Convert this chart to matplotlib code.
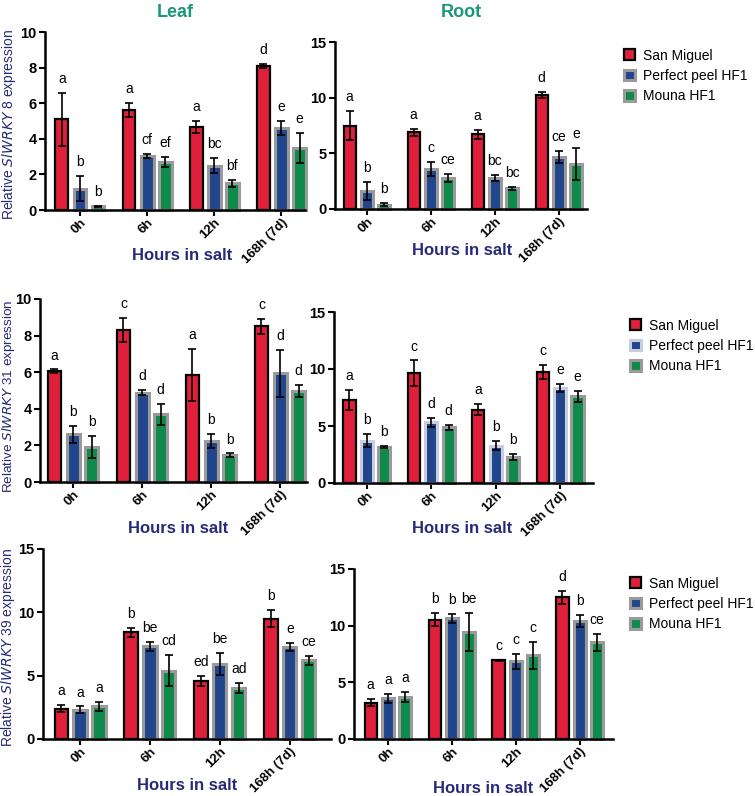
import matplotlib.pyplot as plt
from matplotlib.patches import Patch
import numpy as np

plt.rcParams['font.family'] = ['Liberation Sans', 'DejaVu Sans']

groups = ['0h', '6h', '12h', '168h (7d)']
cultivars = ['San Miguel', 'Perfect peel HF1', 'Mouna HF1']

# SlWRKY 8
w8_leaf_mean = [[5.1, 5.6, 4.65, 8.1], [1.2, 3.05, 2.5, 4.6], [0.2, 2.7, 1.5, 3.5]]
w8_leaf_err = [[1.5, 0.4, 0.35, 0.1], [0.7, 0.12, 0.4, 0.4], [0.03, 0.3, 0.2, 0.85]]
w8_leaf_letters = [['a', 'a', 'a', 'd'], ['b', 'cf', 'bc', 'e'], ['b', 'ef', 'bf', 'e']]

w8_root_mean = [[7.5, 6.9, 6.7, 10.25], [1.6, 3.6, 2.8, 4.7], [0.4, 2.8, 1.85, 4.05]]
w8_root_err = [[1.3, 0.3, 0.4, 0.3], [0.8, 0.65, 0.25, 0.55], [0.15, 0.35, 0.1, 1.45]]
w8_root_letters = [['a', 'a', 'a', 'd'], ['b', 'c', 'bc', 'ce'], ['b', 'ce', 'bc', 'e']]

# SlWRKY 31
w31_leaf_mean = [[6.05, 8.3, 5.85, 8.5], [2.6, 4.88, 2.25, 5.95], [1.92, 3.7, 1.46, 4.97]]
w31_leaf_err = [[0.1, 0.64, 1.44, 0.4], [0.45, 0.15, 0.37, 1.28], [0.6, 0.57, 0.1, 0.35]]
w31_leaf_letters = [['a', 'c', 'a', 'c'], ['b', 'd', 'b', 'd'], ['b', 'd', 'b', 'd']]

w31_root_mean = [[7.28, 9.65, 6.43, 9.74], [3.71, 5.32, 3.27, 8.33], [3.13, 4.88, 2.28, 7.6]]
w31_root_err = [[0.88, 1.1, 0.5, 0.63], [0.58, 0.4, 0.4, 0.35], [0.1, 0.2, 0.3, 0.5]]
w31_root_letters = [['a', 'c', 'a', 'c'], ['b', 'd', 'b', 'e'], ['b', 'd', 'b', 'e']]

# SlWRKY 39
w39_leaf_mean = [[2.4, 8.42, 4.55, 9.5], [2.32, 7.32, 5.92, 7.26], [2.6, 5.4, 4.03, 6.2]]
w39_leaf_err = [[0.26, 0.38, 0.4, 0.66], [0.25, 0.37, 0.88, 0.3], [0.35, 1.25, 0.4, 0.36]]
w39_leaf_letters = [['a', 'b', 'ed', 'b'], ['a', 'be', 'be', 'e'], ['a', 'cd', 'ad', 'ce']]

w39_root_mean = [[3.22, 10.53, 6.96, 12.5], [3.6, 10.67, 6.87, 10.4], [3.74, 9.44, 7.37, 8.54]]
w39_root_err = [[0.3, 0.55, 0.05, 0.55], [0.4, 0.4, 0.65, 0.55], [0.45, 1.7, 1.17, 0.76]]
w39_root_letters = [['a', 'b', 'c', 'd'], ['a', 'b', 'c', 'b'], ['a', 'be', 'c', 'ce']]

fill_colors = ['#e0203a', '#22468c', '#0e8a4a']
navy = '#262a78'
teal = '#1a9878'

W, H = 755, 796
fig = plt.figure(figsize=(W / 100, H / 100), dpi=100)


def make_axes(left, right, top, bottom):
    return fig.add_axes([left / W, 1 - bottom / H, (right - left) / W, (bottom - top) / H])


def draw_panel(ax, means, errs, letters, ymax, ystep, xlim, xlab_pos, edge2='#9a9a9a'):
    x = np.arange(len(groups))
    offs = [-0.27, 0, 0.27]
    edges = ['black', edge2, '#9a9a9a']
    lws = [1.6, 2.2, 2.2]
    for i in range(3):
        ax.bar(x + offs[i], means[i], 0.19, color=fill_colors[i],
               edgecolor=edges[i], linewidth=lws[i], clip_on=False, zorder=2)
        ax.errorbar(x + offs[i], means[i], yerr=errs[i], fmt='none', ecolor='black',
                    elinewidth=1.2, capsize=3, capthick=1.2, clip_on=False, zorder=3)
        for j in range(len(groups)):
            ax.annotate(letters[i][j], (x[j] + offs[i], means[i][j] + errs[i][j]),
                        xytext=(0, 5), textcoords='offset points', ha='center',
                        va='bottom', fontsize=10)
    ax.set_xlim(*xlim)
    ax.set_ylim(0, ymax)
    ax.set_yticks(np.arange(0, ymax + 0.1, ystep))
    ax.set_xticks(x)
    ax.set_xticklabels(groups, rotation=45, ha='right', rotation_mode='anchor',
                       fontweight='bold', fontsize=9.5)
    for lab in ax.get_yticklabels():
        lab.set_fontweight('bold')
        lab.set_fontsize(10.5)
    for s in ['top', 'right']:
        ax.spines[s].set_visible(False)
    for s in ['left', 'bottom']:
        ax.spines[s].set_linewidth(1.8)
    ax.tick_params(direction='out', length=4, width=1.5, pad=2)
    ax.tick_params(axis='x', pad=1)
    ax.set_xlabel('Hours in salt', color=navy, fontweight='bold', fontsize=12)
    ax.xaxis.set_label_coords(*xlab_pos)


ax1 = make_axes(45, 305, 32, 210)
draw_panel(ax1, w8_leaf_mean, w8_leaf_err, w8_leaf_letters, 10, 2, (-0.52, 3.35),
           (0.527, -0.213))
ax1.set_ylabel(r'Relative $\it{SlWRKY}$ 8 expression', color=navy, fontsize=10)
ax1.yaxis.set_label_coords(-0.104, 0.48)
ax1.set_title('Leaf', color=teal, fontweight='bold', fontsize=13, pad=11)

ax2 = make_axes(335, 587, 42, 209)
draw_panel(ax2, w8_root_mean, w8_root_err, w8_root_letters, 15, 5, (-0.5, 3.44),
           (0.504, -0.204))
ax2.set_title('Root', color=teal, fontweight='bold', fontsize=13, pad=18)

ax3 = make_axes(40, 307, 299, 482)
draw_panel(ax3, w31_leaf_mean, w31_leaf_err, w31_leaf_letters, 10, 2, (-0.48, 3.39),
           (0.517, -0.213))
ax3.set_ylabel(r'Relative $\it{SlWRKY}$ 31 expression', color=navy, fontsize=9.7)
ax3.yaxis.set_label_coords(-0.088, 0.47)

ax4 = make_axes(334, 593, 312, 483)
draw_panel(ax4, w31_root_mean, w31_root_err, w31_root_letters, 15, 5, (-0.51, 3.51),
           (0.494, -0.222), edge2='#c8cde0')

ax5 = make_axes(43, 331, 549, 739)
draw_panel(ax5, w39_leaf_mean, w39_leaf_err, w39_leaf_letters, 15, 5, (-0.53, 3.59),
           (0.5, -0.205))
ax5.set_ylabel(r'Relative $\it{SlWRKY}$ 39 expression', color=navy, fontsize=10)
ax5.yaxis.set_label_coords(-0.092, 0.48)

ax6 = make_axes(354, 613, 569, 739)
draw_panel(ax6, w39_root_mean, w39_root_err, w39_root_letters, 15, 5, (-0.53, 3.52),
           (0.498, -0.247))

# legends
for (lx, ly, e2) in [(618, 43, '#9a9a9a'), (624, 313, '#c8cde0'), (624, 571, '#9a9a9a')]:
    handles = [Patch(facecolor=fill_colors[0], edgecolor='black', linewidth=1.6),
               Patch(facecolor=fill_colors[1], edgecolor=e2, linewidth=2.2),
               Patch(facecolor=fill_colors[2], edgecolor='#9a9a9a', linewidth=2.2)]
    fig.legend(handles, cultivars, loc='upper left', bbox_to_anchor=(lx / W, 1 - ly / H),
               frameon=False, fontsize=10, handlelength=0.8, handleheight=0.8,
               handletextpad=0.6, labelspacing=0.45, borderaxespad=0)

fig.savefig('out.png', dpi=100)
